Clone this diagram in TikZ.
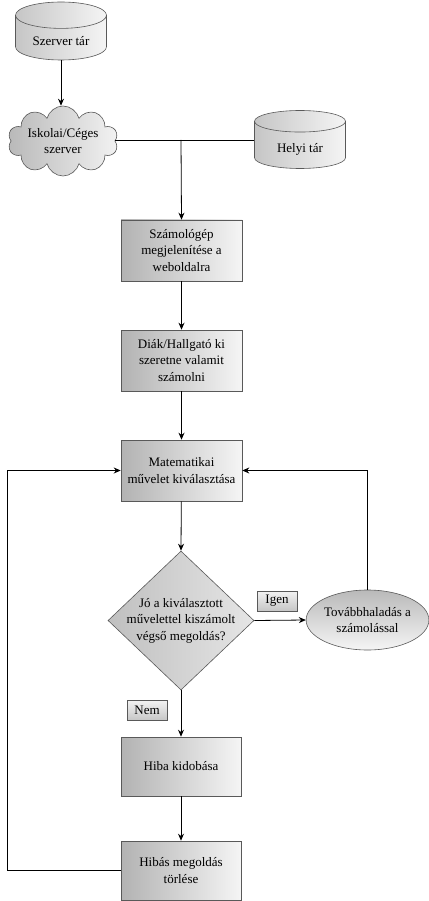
\documentclass[tikz,border=0pt]{standalone}
\usepackage{fontspec}
\setmainfont{Liberation Serif}
\usetikzlibrary{shapes.geometric,shapes.symbols,arrows.meta}

\begin{document}
\begin{tikzpicture}[x=1pt,y=-1pt,
  font=\fontsize{13}{16.5}\selectfont,
  >={Stealth[length=7pt,width=6pt]},
  line width=0.8pt,
  box/.style={draw=gray!70!black,line width=0.6pt,left color=gray!60,right color=gray!8,
    minimum width=121pt,minimum height=61pt,align=center,inner sep=1pt},
  tar/.style={cylinder,shape border rotate=90,aspect=0.45,draw=gray!70!black,line width=0.6pt,
    left color=gray!45,right color=gray!8,minimum width=91pt,minimum height=58pt,inner sep=1pt,
    anchor=shape center},
  felho/.style={cloud,cloud puffs=10,cloud ignores aspect,draw=gray!70!black,line width=0.6pt,
    left color=gray!55,right color=gray!10,minimum width=110pt,minimum height=70pt,align=center,inner sep=0pt},
  dontes/.style={diamond,draw=gray!70!black,line width=0.6pt,left color=gray!50,right color=gray!20,
    minimum width=146pt,minimum height=139pt,inner sep=0pt},
  ovalis/.style={ellipse,draw=gray!70!black,line width=0.6pt,top color=gray!55,bottom color=gray!8,
    minimum width=121pt,minimum height=60pt,align=center,inner sep=0pt},
  cimke/.style={draw=gray!70!black,line width=0.6pt,top color=gray!10,bottom color=gray!45,
    minimum width=40pt,minimum height=20pt,inner sep=0pt}
]
\useasboundingbox (0,0) rectangle (428,901);

\node[tar] (szerver) at (61,31) {\raisebox{-12pt}{Szerver tár}};
\node[felho] (iskola) at (63,141) {Iskolai/Céges\\szerver};
\node[tar] (helyi) at (300,139.5) {\raisebox{-15pt}{Helyi tár}};
\coordinate (elag) at (181,140);

\node[box] (szamologep) at (181.5,250.5) {Számológép\\megjelenítése a\\weboldalra};
\node[box] (diak) at (181.5,360.5) {Diák/Hallgató ki\\szeretne valamit\\számolni};
\node[box] (muvelet) at (181.5,470.5) {Matematikai\\művelet kiválasztása};

\node[dontes,label={[align=center]center:Jó a kiválasztott\\művelettel kiszámolt\\végső megoldás?}] (jo) at (181,620.5) {};
\node[ovalis] (tovabb) at (367.5,620) {Továbbhaladás a\\számolással};
\node[cimke] (igen) at (277,601) {Igen};
\node[cimke] (nem) at (147,710.5) {Nem};

\node[box,minimum width=120pt,minimum height=59pt] (hiba) at (181,766.5) {Hiba kidobása};
\node[box,minimum width=120pt,minimum height=59pt] (torles) at (181,870.5) {Hibás megoldás\\törlése};

\draw[->] (szerver.south) -- (szerver.south |- iskola.north);
\draw (iskola.east |- elag) -- (helyi.west |- elag);
\draw[->] (elag) -- (szamologep.north);
\draw[->] (szamologep) -- (diak);
\draw[->] (diak) -- (muvelet);
\draw[->] (muvelet) -- (jo.north);
\draw[->] (jo.east) -- (tovabb.west);
\draw[->] (jo.south) -- (hiba.north);
\draw[->] (hiba) -- (torles);
\draw[->] (tovabb.north) |- (muvelet.east);
\draw[->] (torles.west) -- ++(-113,0) |- (muvelet.west);
\end{tikzpicture}
\end{document}
